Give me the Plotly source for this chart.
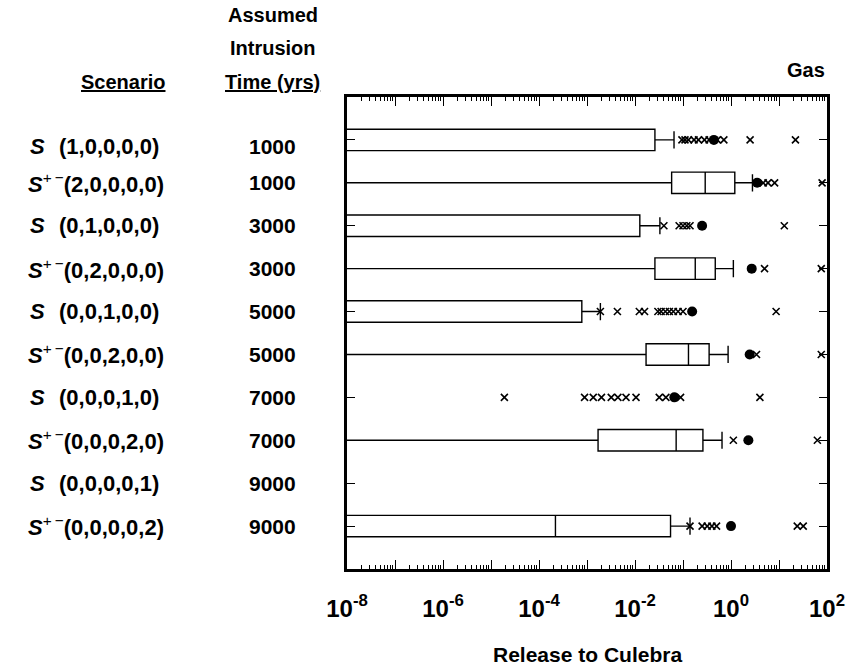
import plotly.graph_objects as go

# ---------------- data ----------------
scen_symbol = ["S", "S+-", "S", "S+-", "S", "S+-", "S", "S+-", "S", "S+-"]
scen_tuple = ["(1,0,0,0,0)", "(2,0,0,0,0)", "(0,1,0,0,0)", "(0,2,0,0,0)", "(0,0,1,0,0)",
              "(0,0,2,0,0)", "(0,0,0,1,0)", "(0,0,0,2,0)", "(0,0,0,0,1)", "(0,0,0,0,2)"]
intrusion_time = ["1000", "1000", "3000", "3000", "5000", "5000", "7000", "7000", "9000", "9000"]
rows = [1, 2, 3, 4, 5, 6, 7, 8, 9, 10]

LOW = 1e-12  # statistic lies below the plotted range (< 1e-8)

# box statistics for the rows that have a box
box_rows = [1, 2, 3, 4, 5, 6, 8, 10]
box_lower = [LOW, LOW, LOW, LOW, LOW, LOW, LOW, LOW]
box_q1 = [LOW, 0.058, LOW, 0.026, LOW, 0.017, 1.7e-3, LOW]
box_median = [LOW, 0.29, LOW, 0.18, LOW, 0.13, 0.072, 2.2e-4]
box_q3 = [0.026, 1.2, 0.0126, 0.47, 7.8e-4, 0.35, 0.26, 0.055]
box_upper = [0.065, 2.8, 0.033, 1.12, 1.9e-3, 0.87, 0.65, 0.14]

# outliers (x) per row
outliers = {
    1: [0.095, 0.11, 0.13, 0.17, 0.21, 0.28, 0.35, 0.52, 0.71, 2.5, 22],
    2: [4.7, 5.9, 8.1, 79],
    3: [0.040, 0.083, 0.10, 0.12, 0.14, 12.9],
    4: [5.0, 76],
    5: [1.9e-3, 4.3e-3, 0.0123, 0.0158, 0.030, 0.035, 0.043, 0.052, 0.063, 0.079, 0.10, 8.7],
    6: [3.4, 76],
    7: [1.9e-5, 8.9e-4, 1.35e-3, 2.0e-3, 3.2e-3, 4.4e-3, 6.5e-3, 0.0105, 0.032, 0.044, 0.089, 4.0],
    8: [1.12, 63],
    10: [0.14, 0.25, 0.32, 0.40, 0.50, 24, 32],
}
# filled circles (means)
mean_rows = [1, 2, 3, 4, 5, 6, 7, 8, 10]
mean_vals = [0.44, 3.5, 0.25, 2.7, 0.155, 2.45, 0.066, 2.3, 1.0]

x_tickvals = [10.0 ** e for e in range(-8, 3)]
x_ticktext = ["<b>10<sup>%d</sup></b>" % e if e % 2 == 0 else "" for e in range(-8, 3)]
x_minor = [m * 10.0 ** e for e in range(-8, 2) for m in range(2, 10)]

# ---------------- figure ----------------
FONT = "Liberation Sans, Arial, sans-serif"
fig = go.Figure()

fig.add_trace(go.Box(
    orientation="h", y=box_rows, q1=box_q1, median=box_median, q3=box_q3,
    lowerfence=box_lower, upperfence=box_upper, width=0.5, whiskerwidth=0.8,
    fillcolor="white", line=dict(color="black", width=1.4), boxpoints=False,
    showlegend=False, hoverinfo="skip"))

ox, oy = [], []
for r, vals in outliers.items():
    ox += vals
    oy += [r] * len(vals)
fig.add_trace(go.Scatter(
    x=ox, y=oy, mode="markers", showlegend=False,
    marker=dict(symbol="x-thin-open", size=7, color="black",
                line=dict(color="black", width=1.6))))
fig.add_trace(go.Scatter(
    x=mean_vals, y=mean_rows, mode="markers", showlegend=False,
    marker=dict(symbol="circle", size=10, color="black")))

fig.update_xaxes(
    type="log", range=[-8, 2], tickvals=x_tickvals, ticktext=x_ticktext,
    ticks="inside", ticklen=9, tickwidth=1.2, tickcolor="black",
    minor=dict(tickvals=x_minor, ticks="inside", ticklen=4, tickwidth=1, tickcolor="black"),
    showline=True, linewidth=2.5, linecolor="black", mirror="ticks",
    showgrid=False, zeroline=False, ticklabelstandoff=16,
    tickfont=dict(family=FONT, size=24, color="black"))
fig.update_yaxes(
    range=[11, 0], tickvals=rows, ticks="inside", ticklen=8, tickwidth=1.2,
    tickcolor="black", showticklabels=False,
    showline=True, linewidth=2.5, linecolor="black", mirror="ticks",
    showgrid=False, zeroline=False)

ann = []
def txt(text, x, y, xanchor="left", yref="paper", size=20, **kw):
    ann.append(dict(text=text, x=x, y=y, xref="paper", yref=yref, xanchor=xanchor,
                    yanchor="middle", showarrow=False,
                    font=dict(family=FONT, size=size, color="black"), **kw))

PW = 857 - 347 - 24
def px(p):
    return (p - 347) / PW
PH = 669 - 97 - 100
def py(p):
    return 1 - (p - 97) / PH

for r, s, t, tm in zip(rows, scen_symbol, scen_tuple, intrusion_time):
    shift = -7 if r == 1 else 0
    if s == "S":
        txt("<b><i>S</i></b>", px(24), r, yref="y", size=22, yshift=shift)
        txt("<b>%s</b>" % t, px(53), r, yref="y", size=22, yshift=shift)
    else:
        txt("<b><i>S</i></b><sup>+\u2009\u2212</sup><b>%s</b>" % t, px(22), r,
            yref="y", size=22, yshift=shift)
    txt("<b>%s</b>" % tm, px(272), r, xanchor="center", yref="y", size=21, yshift=shift)

txt("<b><u>Scenario</u></b>", px(120), py(82), xanchor="center")
txt("<b>Assumed</b>", px(272), py(15), xanchor="center")
txt("<b>Intrusion</b>", px(272), py(48), xanchor="center")
txt("<b><u>Time (yrs)</u></b>", px(272), py(82), xanchor="center")
txt("<b>Gas</b>", 1.0, py(70), xanchor="right")
txt("<b>Release to Culebra</b>", 0.5, py(654), xanchor="center", size=21)

fig.update_layout(
    width=857, height=669, margin=dict(l=347, r=24, t=97, b=100),
    paper_bgcolor="white", plot_bgcolor="white", annotations=ann,
    font=dict(family=FONT, size=20, color="black"))

fig.write_html("out.html")
